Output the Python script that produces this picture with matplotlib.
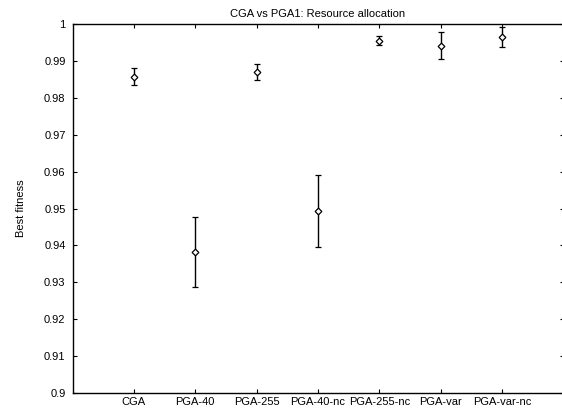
import matplotlib
matplotlib.use("Agg")
import matplotlib.pyplot as plt
import numpy as np

# données
algos = ["CGA", "PGA-40", "PGA-255", "PGA-40-nc", "PGA-255-nc", "PGA-var", "PGA-var-nc"]
best_fitness = [0.9857, 0.9381, 0.9869, 0.9494, 0.9955, 0.9941, 0.9964]
fitness_err = [0.0023, 0.0095, 0.0022, 0.0097, 0.0013, 0.0037, 0.0027]
y_ticks = [0.9, 0.91, 0.92, 0.93, 0.94, 0.95, 0.96, 0.97, 0.98, 0.99, 1.0]
y_tick_labels = ["0.9", "0.91", "0.92", "0.93", "0.94", "0.95", "0.96", "0.97", "0.98", "0.99", "1"]

plt.rcParams["font.family"] = ["Liberation Sans", "DejaVu Sans"]
plt.rcParams["font.size"] = 8

W, H = 562, 411
fig = plt.figure(figsize=(W / 100, H / 100), dpi=100)
left, right, top, bottom = 72.5, 563.5, 24, 393
ax = fig.add_axes([left / W, 1 - bottom / H, (right - left) / W, (bottom - top) / H])

x = np.arange(1, len(algos) + 1)
ax.errorbar(x, best_fitness, yerr=fitness_err, fmt="D", color="black",
            markerfacecolor="white", markeredgecolor="black", markersize=3.4,
            markeredgewidth=0.9, ecolor="black", elinewidth=1.0, capsize=2.3,
            capthick=1.0)

ax.set_xlim(0, 8)
ax.set_ylim(0.9, 1.0)
ax.set_xticks(x)
ax.set_xticklabels(algos)
ax.set_yticks(y_ticks)
ax.set_yticklabels(y_tick_labels)
ax.tick_params(axis="x", direction="in", length=3, width=0.8, top=True, pad=3)
ax.tick_params(axis="y", direction="in", length=3, width=0.8, right=True, pad=5)
for s in ax.spines.values():
    s.set_linewidth(1.0)

ax.set_title("CGA vs PGA1: Resource allocation", fontsize=8, pad=5)
ax.set_ylabel("Best fitness", labelpad=13)

fig.savefig("out.png", dpi=100)
